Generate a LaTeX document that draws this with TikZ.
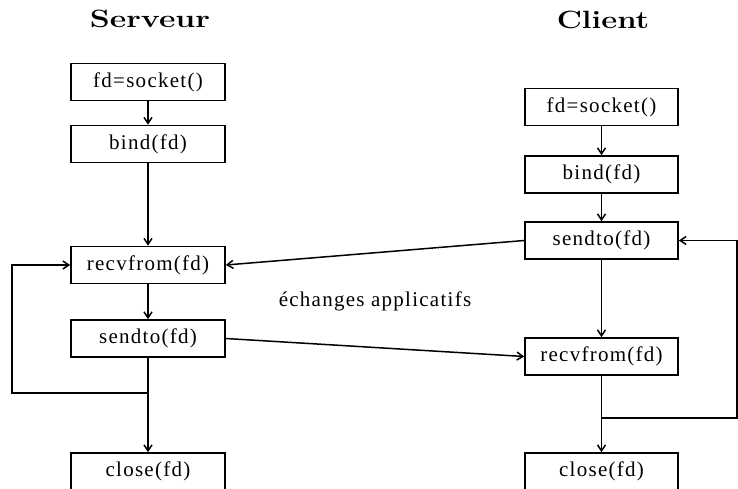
\documentclass[tikz,border=0pt]{standalone}
\usepackage{fontspec}
\usepackage{graphicx}
\newfontfamily\boxfont{Liberation Serif}[LetterSpace=6]
\usetikzlibrary{arrows.meta}
\begin{document}
\begin{tikzpicture}[x=1pt,y=-1pt,
  box/.style={draw,line width=1.6pt,minimum width=154pt,minimum height=37pt,inner sep=0pt,
    font=\boxfont\fontsize{21}{24}\selectfont},
  arr/.style={line width=1.5pt,-{Straight Barb[length=6pt,width=8pt]}},
  ttl/.style={inner sep=0pt,anchor=base}]
\useasboundingbox (0,0) rectangle (738,489);
\clip (0,0) rectangle (738,489);
% titles
\node[ttl] (tserv) at (150,28) {\scalebox{1.28}[1]{\fontsize{25}{30}\selectfont\bfseries Serveur}};
\node[ttl] (tcli) at (603,29) {\scalebox{1.24}[1]{\fontsize{25}{30}\selectfont\bfseries Client}};
% server
\node[box] (ssock) at (148,82) {fd=socket()};
\node[box] (sbind) at (148,144) {bind(fd)};
\node[box] (srecv) at (148,265) {recvfrom(fd)};
\node[box] (ssend) at (148,338.5) {sendto(fd)};
\node[box] (sclose) at (148,471.5) {close(fd)};
% client
\node[box,minimum width=153pt] (csock) at (601.5,107) {fd=socket()};
\node[box,minimum width=153pt] (cbind) at (601.5,174.5) {bind(fd)};
\node[box,minimum width=153pt] (csend) at (601.5,240.5) {sendto(fd)};
\node[box,minimum width=153pt] (crecv) at (601.5,356.5) {recvfrom(fd)};
\node[box,minimum width=153pt] (cclose) at (601.5,471.5) {close(fd)};
% label
\node[font=\boxfont\fontsize{21}{24}\selectfont,inner sep=0pt] (lab) at (375,301) {échanges applicatifs};
% server flow
\draw[arr] (ssock) -- (sbind);
\draw[arr] (sbind) -- (srecv);
\draw[arr] (srecv) -- (ssend);
\draw[arr] (ssend) -- (sclose);
\coordinate (sj) at (148,393);
\coordinate (sl) at (12,393);
\draw[arr] (sj) -- (sl) |- (srecv.west);
% client flow
\draw[arr] (csock) -- (cbind);
\draw[arr] (cbind) -- (csend);
\draw[arr] (csend) -- (crecv);
\draw[arr] (crecv) -- (cclose);
\coordinate (cj) at (601.5,418);
\coordinate (cr) at (737,418);
\draw[arr] (cj) -- (cr) |- (csend.east);
% exchanges
\draw[arr] (csend.west) -- (srecv.east);
\draw[arr] (ssend.east) -- (crecv.west);
\end{tikzpicture}
\end{document}
